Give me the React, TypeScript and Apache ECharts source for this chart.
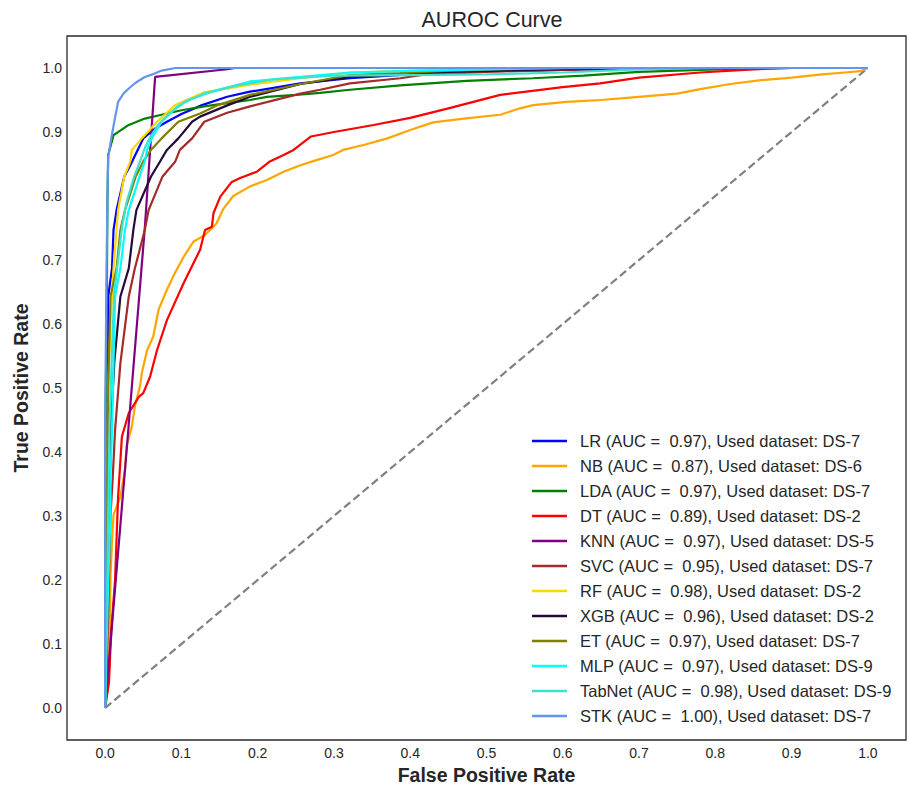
import React, { useEffect, useRef } from "react";
import * as echarts from "echarts";

// ---- Data ----
const seriesNames = [
  "LR (AUC =  0.97), Used dataset: DS-7",
  "NB (AUC =  0.87), Used dataset: DS-6",
  "LDA (AUC =  0.97), Used dataset: DS-7",
  "DT (AUC =  0.89), Used dataset: DS-2",
  "KNN (AUC =  0.97), Used dataset: DS-5",
  "SVC (AUC =  0.95), Used dataset: DS-7",
  "RF (AUC =  0.98), Used dataset: DS-2",
  "XGB (AUC =  0.96), Used dataset: DS-2",
  "ET (AUC =  0.97), Used dataset: DS-7",
  "MLP (AUC =  0.97), Used dataset: DS-9",
  "TabNet (AUC =  0.98), Used dataset: DS-9",
  "STK (AUC =  1.00), Used dataset: DS-7",
];

const seriesColors = [
  "#0000FF", "#FFA500", "#008000", "#FF0000", "#800080", "#A52A2A",
  "#FFD700", "#250b3a", "#808000", "#00FFFF", "#40E0D0", "#6495ED",
];

const tickValues = [0, 0.1, 0.2, 0.3, 0.4, 0.5, 0.6, 0.7, 0.8, 0.9, 1.0];

const lrRoc = [
  [0, 0], [0.001, 0.2], [0.002, 0.4], [0.004, 0.55], [0.004, 0.643], [0.009, 0.687],
  [0.011, 0.747], [0.015, 0.778], [0.025, 0.83], [0.033, 0.848], [0.039, 0.863],
  [0.05, 0.89], [0.065, 0.905], [0.081, 0.916], [0.1, 0.928], [0.127, 0.942],
  [0.16, 0.955], [0.19, 0.963], [0.256, 0.976], [0.321, 0.984], [0.4, 0.99],
  [0.5, 0.995], [0.6, 0.997], [0.7, 0.999], [0.8, 1], [1, 1],
];

const nbRoc = [
  [0, 0], [0.002, 0.02], [0.005, 0.044], [0.006, 0.12], [0.007, 0.205], [0.009, 0.26],
  [0.011, 0.302], [0.02, 0.33], [0.026, 0.372], [0.028, 0.408], [0.035, 0.44],
  [0.039, 0.471], [0.046, 0.505], [0.048, 0.523], [0.055, 0.559], [0.063, 0.58],
  [0.07, 0.622], [0.079, 0.648], [0.089, 0.674], [0.103, 0.705], [0.116, 0.729],
  [0.131, 0.739], [0.146, 0.757], [0.155, 0.78], [0.168, 0.8], [0.19, 0.815],
  [0.212, 0.825], [0.234, 0.838], [0.256, 0.848], [0.277, 0.856], [0.299, 0.864],
  [0.312, 0.872], [0.34, 0.88], [0.37, 0.89], [0.4, 0.903], [0.43, 0.915],
  [0.47, 0.921], [0.518, 0.927], [0.544, 0.937], [0.561, 0.942], [0.605, 0.947],
  [0.65, 0.95], [0.7, 0.955], [0.75, 0.96], [0.78, 0.967], [0.82, 0.975],
  [0.86, 0.981], [0.9, 0.985], [0.94, 0.99], [0.97, 0.993], [0.99, 0.995], [1, 1],
];

const ldaRoc = [
  [0, 0], [0, 0.4], [0.002, 0.6], [0.003, 0.79], [0.004, 0.864], [0.011, 0.895],
  [0.031, 0.911], [0.052, 0.921], [0.074, 0.927], [0.1, 0.934], [0.13, 0.94],
  [0.16, 0.945], [0.19, 0.95], [0.212, 0.955], [0.25, 0.958], [0.282, 0.961],
  [0.321, 0.966], [0.387, 0.973], [0.474, 0.98], [0.561, 0.984], [0.627, 0.988],
  [0.7, 0.994], [0.8, 0.998], [0.9, 1], [1, 1],
];

const dtRoc = [
  [0, 0], [0.005, 0.04], [0.008, 0.12], [0.013, 0.2], [0.017, 0.33], [0.022, 0.424],
  [0.031, 0.461], [0.044, 0.486], [0.05, 0.492], [0.059, 0.518], [0.068, 0.559],
  [0.081, 0.606], [0.103, 0.664], [0.1245, 0.716], [0.131, 0.747], [0.14, 0.752],
  [0.142, 0.773], [0.151, 0.799], [0.166, 0.822], [0.177, 0.828], [0.199, 0.838],
  [0.216, 0.854], [0.234, 0.864], [0.247, 0.872], [0.27, 0.893], [0.3, 0.9],
  [0.352, 0.911], [0.4, 0.922], [0.45, 0.937], [0.518, 0.958], [0.6, 0.97],
  [0.649, 0.976], [0.7, 0.985], [0.78, 0.993], [0.85, 0.998], [0.9, 1], [1, 1],
];

const knnRoc = [
  [0, 0], [0.002, 0.03], [0.028, 0.4], [0.052, 0.75], [0.0655, 0.986],
  [0.16, 0.998], [0.17, 1], [1, 1],
];

const svcRoc = [
  [0, 0], [0.002, 0.05], [0.005, 0.2], [0.007, 0.3], [0.01, 0.361], [0.013, 0.434],
  [0.02, 0.539], [0.031, 0.643], [0.039, 0.687], [0.052, 0.747], [0.057, 0.778],
  [0.075, 0.83], [0.092, 0.854], [0.098, 0.872], [0.114, 0.89], [0.13, 0.916],
  [0.16, 0.93], [0.19, 0.94], [0.256, 0.96], [0.282, 0.966], [0.321, 0.976],
  [0.387, 0.984], [0.42, 0.99], [0.5, 0.994], [0.6, 0.997], [0.7, 0.999], [0.8, 1], [1, 1],
];

const rfRoc = [
  [0, 0], [0.002, 0.3], [0.004, 0.5], [0.007, 0.6], [0.011, 0.687], [0.017, 0.778],
  [0.025, 0.83], [0.033, 0.854], [0.035, 0.872], [0.048, 0.89], [0.068, 0.916],
  [0.092, 0.942], [0.13, 0.962], [0.19, 0.974], [0.256, 0.984], [0.321, 0.993],
  [0.4, 0.996], [0.5, 0.999], [0.6, 1], [1, 1],
];

const xgbRoc = [
  [0, 0], [0.002, 0.1], [0.004, 0.3], [0.008, 0.45], [0.012, 0.54], [0.02, 0.643],
  [0.031, 0.687], [0.037, 0.747], [0.041, 0.778], [0.06, 0.83], [0.072, 0.854],
  [0.081, 0.872], [0.096, 0.89], [0.114, 0.916], [0.1245, 0.924], [0.161, 0.942],
  [0.19, 0.955], [0.256, 0.975], [0.321, 0.986], [0.387, 0.99], [0.45, 0.994],
  [0.55, 0.997], [0.65, 0.999], [0.75, 1], [1, 1],
];

const etRoc = [
  [0, 0], [0.002, 0.3], [0.004, 0.5], [0.007, 0.643], [0.015, 0.687], [0.02, 0.747],
  [0.026, 0.778], [0.04, 0.83], [0.05, 0.854], [0.06, 0.872], [0.074, 0.89],
  [0.096, 0.916], [0.1245, 0.929], [0.148, 0.942], [0.19, 0.958], [0.256, 0.975],
  [0.321, 0.989], [0.387, 0.992], [0.45, 0.996], [0.55, 0.999], [0.65, 1], [1, 1],
];

const mlpRoc = [
  [0, 0], [0.002, 0.1], [0.004, 0.195], [0.007, 0.3], [0.007, 0.361], [0.009, 0.434],
  [0.011, 0.539], [0.013, 0.643], [0.02, 0.687], [0.026, 0.747], [0.031, 0.778],
  [0.045, 0.83], [0.052, 0.854], [0.055, 0.872], [0.061, 0.89], [0.074, 0.916],
  [0.095, 0.94], [0.109, 0.95], [0.14, 0.963], [0.19, 0.979], [0.256, 0.986],
  [0.321, 0.993], [0.387, 0.995], [0.5, 0.998], [0.6, 1], [1, 1],
];

const tabnetRoc = [
  [0, 0], [0.002, 0.15], [0.004, 0.3], [0.006, 0.45], [0.009, 0.56], [0.012, 0.65],
  [0.017, 0.7], [0.022, 0.75], [0.028, 0.79], [0.038, 0.83], [0.046, 0.855],
  [0.052, 0.875], [0.058, 0.89], [0.07, 0.912], [0.085, 0.93], [0.105, 0.947],
  [0.13, 0.96], [0.17, 0.972], [0.22, 0.982], [0.3, 0.988], [0.4, 0.989],
  [0.5, 0.99], [0.6, 0.993], [0.7, 0.998], [0.8, 1], [1, 1],
];

const stkRoc = [
  [0, 0], [0, 0.45], [0.002, 0.7], [0.003, 0.8], [0.004, 0.86], [0.008, 0.89],
  [0.012, 0.916], [0.017, 0.947], [0.024, 0.96], [0.031, 0.968], [0.04, 0.977],
  [0.052, 0.986], [0.062, 0.99], [0.074, 0.996], [0.092, 1], [1, 1],
];

const chanceLine = [
  [0, 0], [1, 1],
];

const seriesData = [
  lrRoc, nbRoc, ldaRoc, dtRoc, knnRoc, svcRoc, rfRoc, xgbRoc, etRoc, mlpRoc, tabnetRoc, stkRoc,
];

const FONT = "'Liberation Sans', Arial, Helvetica, sans-serif";
const TEXT_COLOR = "#262626";

export default function App() {
  const ref = useRef<HTMLDivElement>(null);

  useEffect(() => {
    if (!ref.current) return;
    const chart = echarts.init(ref.current, undefined, { renderer: "svg" });

    const lineSeries: any[] = seriesNames.map((name, i) => ({
      name,
      type: "line",
      data: seriesData[i],
      showSymbol: false,
      symbol: "none",
      smooth: false,
      lineStyle: { color: seriesColors[i], width: 2.2 },
      itemStyle: { color: seriesColors[i] },
      z: 3,
    }));

    lineSeries.push({
      name: "chance",
      type: "line",
      data: chanceLine,
      showSymbol: false,
      symbol: "none",
      lineStyle: { color: "#808080", width: 2.2, type: [8, 4] },
      z: 2,
    });

    const option: any = {
      animation: false,
      backgroundColor: "#ffffff",
      textStyle: { fontFamily: FONT },
      title: {
        text: "AUROC Curve",
        left: 487,
        textAlign: "center",
        top: 4,
        textStyle: { fontFamily: FONT, fontSize: 21.5, fontWeight: "normal", color: TEXT_COLOR },
      },
      grid: {
        left: 67,
        top: 36,
        width: 839,
        height: 704,
        show: true,
        borderColor: "#2a2a2a",
        borderWidth: 1.3,
        backgroundColor: "transparent",
      },
      legend: {
        data: seriesNames,
        orient: "vertical",
        left: 532,
        top: 432.5,
        padding: 0,
        itemGap: 8,
        itemWidth: 35,
        itemHeight: 2.5,
        icon: "rect",
        textStyle: {
          fontFamily: FONT,
          fontSize: 16.5,
          color: TEXT_COLOR,
          padding: [0, 0, 0, 8],
        },
      },
      xAxis: {
        type: "value",
        min: -0.05,
        max: 1.05,
        name: "False Positive Rate",
        nameLocation: "middle",
        nameGap: 24,
        nameTextStyle: { fontFamily: FONT, fontSize: 19.5, fontWeight: "bold", color: TEXT_COLOR },
        axisLine: { show: false },
        axisTick: { show: false },
        splitLine: { show: false },
        axisLabel: {
          customValues: tickValues,
          formatter: (v: number) => v.toFixed(1),
          fontFamily: FONT,
          fontSize: 14,
          color: TEXT_COLOR,
          margin: 6,
        },
      },
      yAxis: {
        type: "value",
        min: -0.05,
        max: 1.05,
        name: "True Positive Rate",
        nameLocation: "middle",
        nameGap: 36,
        nameTextStyle: { fontFamily: FONT, fontSize: 19.5, fontWeight: "bold", color: TEXT_COLOR },
        axisLine: { show: false },
        axisTick: { show: false },
        splitLine: { show: false },
        axisLabel: {
          customValues: tickValues,
          formatter: (v: number) => v.toFixed(1),
          fontFamily: FONT,
          fontSize: 14,
          color: TEXT_COLOR,
          margin: 5,
        },
      },
      series: lineSeries,
    };

    chart.setOption(option);
    return () => {
      chart.dispose();
    };
  }, []);

  return (
    <div
      ref={ref}
      style={{ position: "absolute", left: 0, top: 0, width: 911, height: 790, background: "#fff" }}
    />
  );
}
